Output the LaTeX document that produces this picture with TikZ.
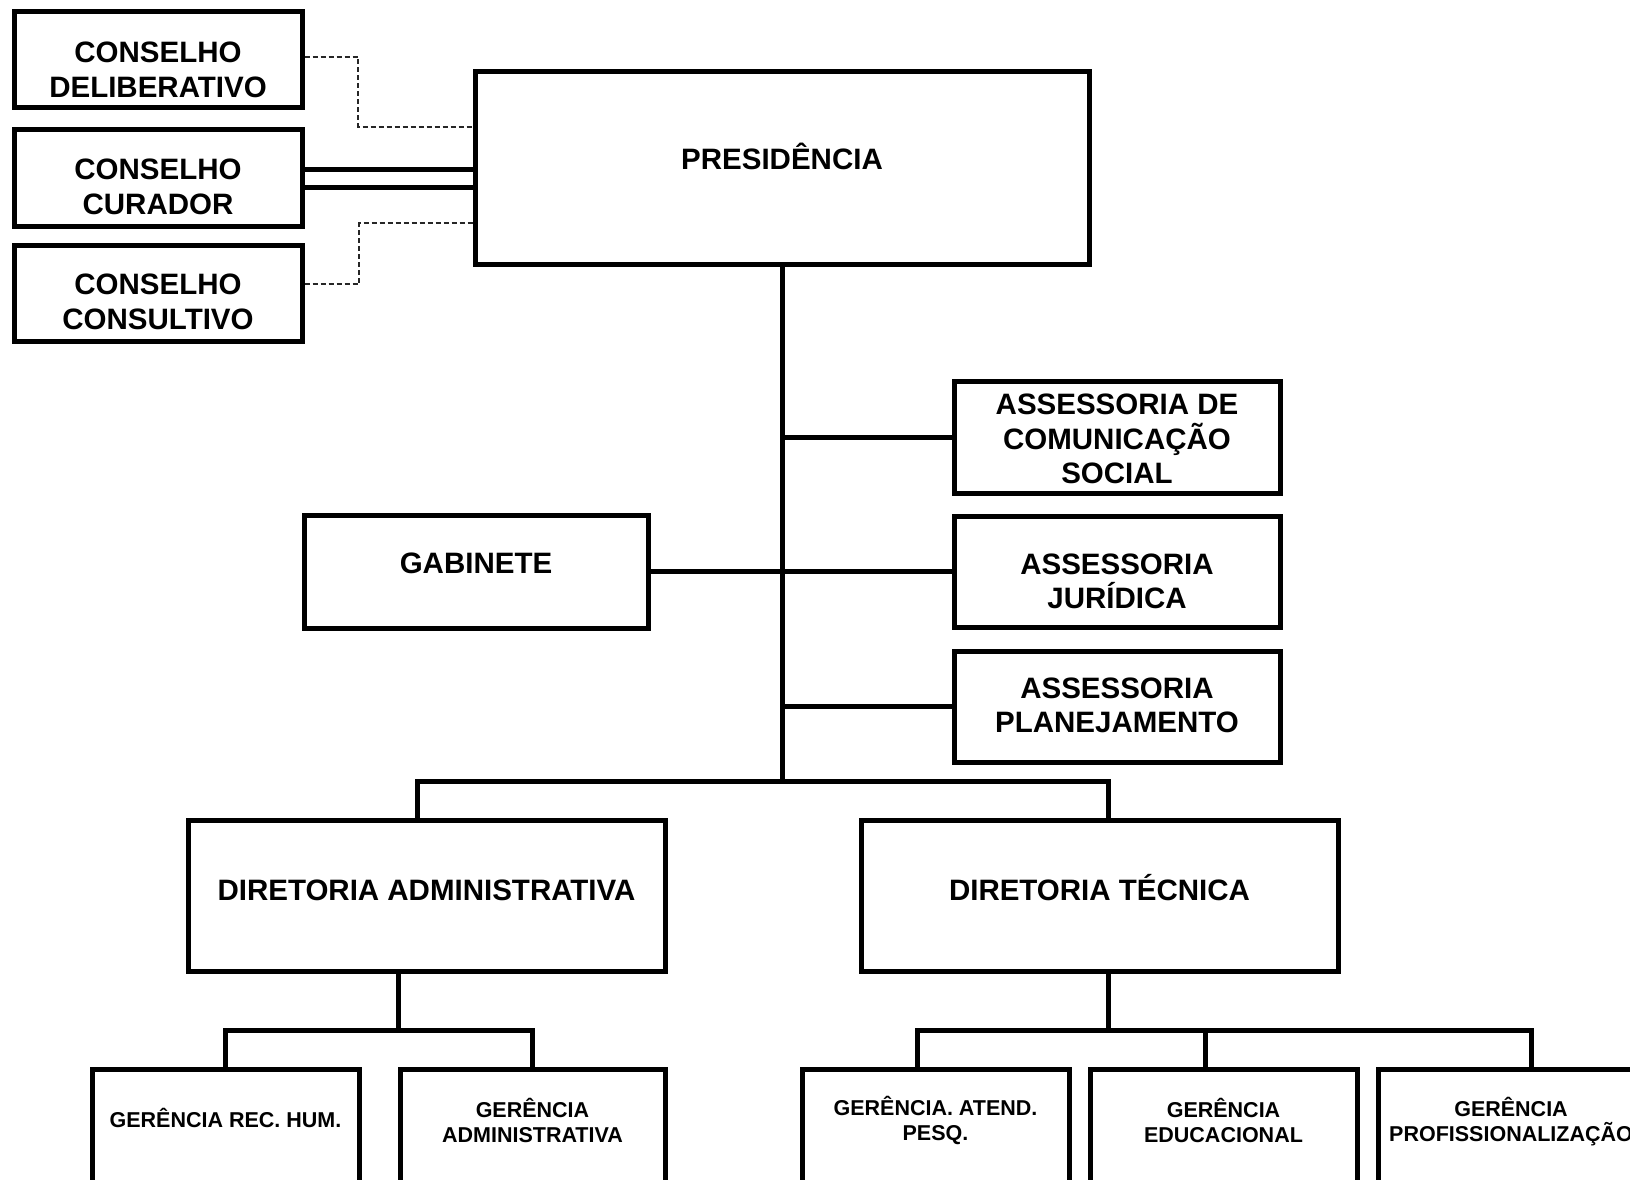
\documentclass[tikz,border=0pt]{standalone}
\usepackage{fontspec}
\setmainfont{Liberation Sans}
\begin{document}
\begin{tikzpicture}[x=1pt,y=-1pt,
  box/.style={draw=black,line width=5pt,inner sep=0pt,fill=none},
  big/.style={font=\fontsize{29.5}{34.5}\selectfont\bfseries,align=center,inner sep=0pt},
  small/.style={font=\fontsize{21.5}{25}\selectfont\bfseries,align=center,inner sep=0pt},
  link/.style={line width=5pt},
  conn/.style={line width=5pt,line cap=rect},
  dashconn/.style={line width=1.3pt,black!85,dash pattern=on 5pt off 3pt}]
\useasboundingbox (0,0) rectangle (1630,1180);
\fill[white] (0,0) rectangle (1630,1180);
\clip (0,0) rectangle (1630,1180);

% councils
\node[box,minimum width=288pt,minimum height=96pt,label={[big,yshift=-10pt]center:CONSELHO\\DELIBERATIVO}] (cd) at (158,60) {};
\node[box,minimum width=288pt,minimum height=96pt,label={[big,yshift=-9pt]center:CONSELHO\\CURADOR}] (cc) at (158,178) {};
\node[box,minimum width=288pt,minimum height=96pt,label={[big,yshift=-9pt]center:CONSELHO\\CONSULTIVO}] (cs) at (158,293) {};

% presidency
\node[box,minimum width=614pt,minimum height=192pt,label={[big,yshift=12pt]center:PRESIDÊNCIA}] (pres) at (782,168) {};

% staff units
\node[box,minimum width=326pt,minimum height=112pt,label={[big,yshift=-2pt]center:ASSESSORIA DE\\COMUNICAÇÃO\\SOCIAL}] (acs) at (1117,437) {};
\node[box,minimum width=344pt,minimum height=113pt,label={[big,yshift=8pt]center:GABINETE}] (gab) at (476,571.5) {};
\node[box,minimum width=326pt,minimum height=111pt,label={[big,yshift=-10pt]center:ASSESSORIA\\JURÍDICA}] (aj) at (1117,571.5) {};
\node[box,minimum width=326pt,minimum height=111pt,label={[big,yshift=1pt]center:ASSESSORIA\\PLANEJAMENTO}] (ap) at (1117,706.5) {};

% directorates
\node[box,minimum width=477pt,minimum height=151pt,label={[big,yshift=5pt]center:DIRETORIA ADMINISTRATIVA}] (da) at (426.5,895.5) {};
\node[box,minimum width=477pt,minimum height=151pt,label={[big,yshift=8pt]center:DIRETORIA TÉCNICA}] (dt) at (1099.5,895.5) {};

% managements
\node[box,minimum width=267pt,minimum height=191pt,label={[small,yshift=46.5pt]center:GERÊNCIA REC. HUM.}] (g1) at (225.5,1164.5) {};
\node[box,minimum width=265pt,minimum height=191pt,label={[small,yshift=44.5pt]center:GERÊNCIA\\ADMINISTRATIVA}] (g2) at (532.5,1164.5) {};
\node[box,minimum width=267pt,minimum height=191pt,label={[small,yshift=44.5pt]center:GERÊNCIA. ATEND.\\PESQ.}] (g3) at (935.5,1164.5) {};
\node[box,minimum width=267pt,minimum height=191pt,label={[small,yshift=44.5pt]center:GERÊNCIA\\EDUCACIONAL}] (g4) at (1223.5,1164.5) {};
\node[box,minimum width=266pt,minimum height=191pt,label={[small,yshift=42.5pt]center:GERÊNCIA\\PROFISSIONALIZAÇÃO}] (g5) at (1511,1164.5) {};

% council connectors
\coordinate (d1) at (358,127);
\coordinate (d1s) at ([yshift=3pt]cd.east);
\draw[dashconn] (d1s) -| (d1) -- (d1 -| pres.west);
\coordinate (d2) at (359,223);
\coordinate (d2s) at ([yshift=9pt]cs.east);
\draw[dashconn] (d2s) -| (d2) -- (d2 -| pres.west);
\coordinate (c1) at ([yshift=9pt]cc.east);
\coordinate (c2) at ([yshift=-9pt]cc.east);
\draw[link] (c1) -- (c1 -| pres.west);
\draw[link] (c2) -- (c2 -| pres.west);

% trunk
\coordinate (bar) at (782,781);
\draw[link] (pres.south) -- (bar);
\draw[link] (acs.west) -- (acs.west -| pres.south);
\draw[link] (gab.east) -- (aj.west);
\draw[link] (ap.west) -- (ap.west -| pres.south);

% directorate bar
\coordinate (bl) at (417,781);
\coordinate (br) at (1108,781);
\draw[conn] (bl |- da.north) -- (bl) -- (br) -- (br |- dt.north);

% left management bar
\coordinate (dal) at (398,1030);
\draw[link] (da.south -| dal) -- (dal);
\coordinate (v1) at (225.5,1030);
\coordinate (v2) at (532.5,1030);
\draw[conn] (v1 |- g1.north) -- (v1) -- (v2) -- (v2 |- g2.north);

% right management bar
\coordinate (dtl) at (1108,1030);
\draw[link] (dt.south -| dtl) -- (dtl);
\coordinate (v3) at (917,1030);
\coordinate (v4) at (1205,1030);
\coordinate (v5) at (1531,1030);
\draw[conn] (v3 |- g3.north) -- (v3) -- (v5) -- (v5 |- g5.north);
\draw[link] (v4) -- (v4 |- g4.north);
\end{tikzpicture}
\end{document}
